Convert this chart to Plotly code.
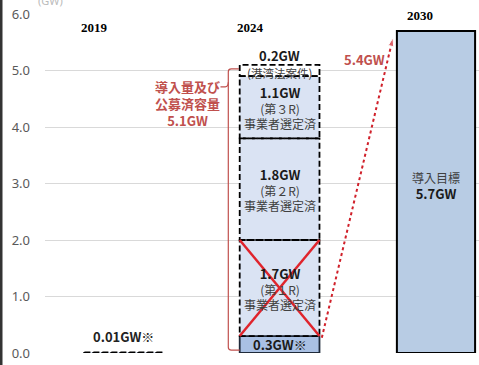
import plotly.graph_objects as go

# ---- data ----
years = ["2019", "2024", "2030"]
val_2019 = 0.01
label_2019 = "0.01GW※"
seg_values_2024 = [0.3, 1.7, 1.8, 1.1, 0.2]
seg_labels_2024 = ["0.3GW※", "1.7GW", "1.8GW", "1.1GW", "0.2GW"]
seg_rounds_2024 = ["", "(第１R)", "(第２R)", "(第３R)", "(港湾法案件)"]
seg_status_2024 = ["", "事業者選定済", "事業者選定済", "事業者選定済", ""]
target_2030 = 5.7
target_label = "導入目標"
target_value_label = "5.7GW"
total_label = ["導入量及び", "公募済容量", "5.1GW"]
gap_label = "5.4GW"
y_ticks = [0.0, 1.0, 2.0, 3.0, 4.0, 5.0, 6.0]

JP = "Noto Sans CJK JP"
RED = "#c0504d"
W = 0.51

fig = go.Figure()
shapes = []
ann = []

# 2019 bar (tiny) with dashed outline
fig.add_trace(go.Bar(x=[0], y=[val_2019], width=W, marker=dict(color="#dae3f3", line=dict(width=0)),
                     showlegend=False, hoverinfo="skip"))
shapes.append(dict(type="rect", xref="x", yref="y", x0=0 - W / 2, x1=0 + W / 2, y0=0, y1=val_2019,
                   line=dict(color="black", width=2, dash="6px,3px")))
ann.append(dict(x=0, y=val_2019, text="<b>" + label_2019 + "</b>", showarrow=False, yanchor="bottom",
                yshift=4, font=dict(family=JP, size=13, color="#222")))

# 2024 stacked bars
fills = ["#a9c0e3", "#dae3f3", "#dae3f3", "#dae3f3", "#ffffff"]
bases = []
b = 0.0
for v in seg_values_2024:
    bases.append(b)
    b += v
total_2024 = b
fig.add_trace(go.Bar(x=[1] * len(seg_values_2024), y=seg_values_2024, base=bases, width=W,
                     marker=dict(color=fills, line=dict(width=0)), showlegend=False, hoverinfo="skip"))
for i, (v, b0) in enumerate(zip(seg_values_2024, bases)):
    solid = i == 0
    shapes.append(dict(type="rect", xref="x", yref="y", x0=1 - W / 2, x1=1 + W / 2, y0=b0, y1=b0 + v,
                       line=dict(color="#1f2a3a" if solid else "black", width=1.8,
                                 dash="solid" if solid else "6px,3px")))
    mid = b0 + v / 2
    if i == 0:
        ann.append(dict(x=1, y=mid, text="<b>" + seg_labels_2024[i] + "</b>", showarrow=False,
                        font=dict(family=JP, size=13, color="#1a1a1a")))
    elif i == 4:
        ann.append(dict(x=1, y=b0 + v, text="<b>" + seg_labels_2024[i] + "</b>", showarrow=False,
                        yanchor="bottom", yshift=-2, font=dict(family=JP, size=13, color="#1a1a1a")))
        ann.append(dict(x=1, y=mid, text=seg_rounds_2024[i], showarrow=False, yshift=-2,
                        font=dict(family=JP, size=11.5, color="#404040")))
    else:
        txt = ("<span style='font-size:13px;color:#1a1a1a'><b>" + seg_labels_2024[i] + "</b></span><br>"
               + seg_rounds_2024[i] + "<br>" + seg_status_2024[i])
        ann.append(dict(x=1, y=mid, text=txt, showarrow=False, yshift=0,
                        font=dict(family=JP, size=12, color="#404040")))

# red X over the 第1R segment
b1, v1 = bases[1], seg_values_2024[1]
for (ya, yb) in [(b1 + v1, b1), (b1, b1 + v1)]:
    shapes.append(dict(type="line", xref="x", yref="y", x0=1 - W / 2, x1=1 + W / 2, y0=ya, y1=yb,
                       line=dict(color="#e0242c", width=2.5)))

# 2030 target bar
fig.add_trace(go.Bar(x=[2], y=[target_2030], width=0.5, marker=dict(color="#b8cce4", line=dict(color="black", width=2)),
                     showlegend=False, hoverinfo="skip"))
ann.append(dict(x=2, y=target_2030 / 2,
                text=target_label + "<br><span style='font-size:13px;color:#1a1a1a'><b>" + target_value_label + "</b></span>",
                showarrow=False, yshift=6, font=dict(family=JP, size=12, color="#404040")))

# year labels at top
year_pos = [(-0.185, 5.77), (0.815, 5.77), (1.9, 5.97)]
for yr, (xx, yy) in zip(years, year_pos):
    ann.append(dict(x=xx, y=yy, text="<b>" + yr + "</b>", showarrow=False,
                    font=dict(family="Liberation Sans Narrow", size=13, color="black")))

# red bracket
bx = 0.672
shapes.append(dict(type="path", xref="x", yref="y",
                   path=f"M {1 - W / 2 - 0.005},{total_2024 - 0.07} L {bx + 0.02},{total_2024 - 0.07} "
                        f"Q {bx},{total_2024 - 0.07} {bx},{total_2024 - 0.12} L {bx},{0.1} "
                        f"Q {bx},{0.05} {bx + 0.02},{0.05} L {1 - W / 2},{0.05}",
                   line=dict(color=RED, width=1.2)))
shapes.append(dict(type="path", xref="x", yref="y",
                   path=f"M {bx},{4.79} Q {bx},{4.71} {bx - 0.02},{4.71} L {bx - 0.05},{4.71}",
                   line=dict(color=RED, width=1.2)))
ann.append(dict(x=0.41, y=4.71, yanchor="top", yshift=12,
                text="<b>" + "<br>".join(total_label) + "</b>", showarrow=False,
                font=dict(family=JP, size=13, color=RED)))

# dotted red arrow
fig.add_trace(go.Scatter(x=[1.27, 1.725], y=[0.27, 5.58], mode="lines+markers",
                         line=dict(color="#d0202a", width=2, dash="dot"),
                         marker=dict(symbol=["circle", "arrow"], size=[0, 9], angleref="previous",
                                     color="#d0202a"),
                         showlegend=False, hoverinfo="skip"))
ann.append(dict(x=1.54, y=5.13, yshift=4, text="<b>" + gap_label + "</b>", showarrow=False,
                font=dict(family=JP, size=13, color=RED)))

# cut-off unit label
ann.append(dict(xref="paper", yref="paper", x=-0.02, y=1.0, yshift=14, text="(GW)", showarrow=False,
                yanchor="middle", font=dict(family="Noto Sans", size=11, color="#bbbbbb")))

# left border line
shapes.append(dict(type="line", xref="paper", yref="paper", x0=-44 / 434, x1=-44 / 434,
                   y0=-0.1, y1=1.1, line=dict(color="#333", width=3)))

fig.update_layout(
    width=479, height=365,
    margin=dict(l=45, r=0, t=14, b=12),
    paper_bgcolor="white", plot_bgcolor="white",
    barmode="overlay",
    shapes=shapes, annotations=ann,
    xaxis=dict(range=[-0.5, 2.275], visible=False, showgrid=False, zeroline=False),
    yaxis=dict(range=[0, 6], tickvals=y_ticks, ticktext=[f"{v:.1f}" for v in y_ticks],
               showgrid=True, gridcolor="#d9d9d9", gridwidth=1, zeroline=False,
               tickfont=dict(family="Noto Sans", size=13, color="#595959"), ticks="",
               ticklabelstandoff=14),
)
fig.write_html("out.html", config={"displayModeBar": False},
               post_script="document.body.style.margin='0';document.body.style.overflow='hidden';")
